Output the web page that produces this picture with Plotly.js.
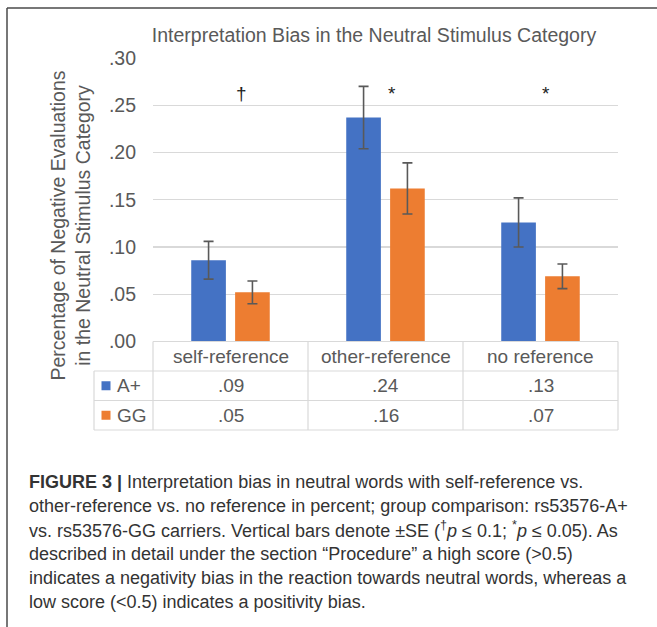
<!DOCTYPE html>
<html>
<head>
<meta charset="utf-8">
<script src="https://cdn.plot.ly/plotly-3.0.1.min.js"></script>
<style>
  html, body { margin: 0; padding: 0; background: #fff; }
  #chart { width: 657px; height: 627px; }
</style>
</head>
<body>
<div id="chart"></div>
<script>
// ---- data ----
const categories = ['self-reference', 'other-reference', 'no reference'];
const groupNames = ['A+', 'GG'];
const aPlusValues = [0.086, 0.237, 0.126];
const ggValues = [0.052, 0.162, 0.069];
const aPlusSE = [0.020, 0.033, 0.026];
const ggSE = [0.012, 0.027, 0.013];
const sigMarks = ['†', '*', '*'];
const yTickVals = [0, 0.05, 0.10, 0.15, 0.20, 0.25, 0.30];
const yTickText = ['.00', '.05', '.10', '.15', '.20', '.25', '.30'];
const chartTitle = 'Interpretation Bias in the Neutral Stimulus Category';
const yTitle = 'Percentage of Negative Evaluations<br>in the Neutral Stimulus Category';
const captionLines = [
  '<b>FIGURE 3 |</b> Interpretation bias in neutral words with self-reference vs.',
  'other-reference vs. no reference in percent; group comparison: rs53576-A+',
  'vs. rs53576-GG carriers. Vertical bars denote ±SE (<sup>†</sup><i>p</i> ≤ 0.1; <sup>*</sup><i>p</i> ≤ 0.05). As',
  'described in detail under the section “Procedure” a high score (&gt;0.5)',
  'indicates a negativity bias in the reaction towards neutral words, whereas a',
  'low score (&lt;0.5) indicates a positivity bias.'
];

// ---- styling / layout geometry ----
const W = 657, H = 627;
const M = { l: 153, r: 39, t: 58, b: 197 };
const PW = W - M.l - M.r, PH = H - M.t - M.b;
const px2x = p => (p - M.l) / PW;
const px2y = p => (H - M.b - p) / PH;
const tableTop = 341.5;
const splitFrac = px2y(tableTop);
const FONT = 'Liberation Sans, Arial, sans-serif';
const GREY = '#595959';
const LINE = '#d9d9d9';
const BLUE = '#4472C4', ORANGE = '#ED7D31';
const colors = [BLUE, ORANGE];
const fmt = v => v.toFixed(2).replace(/^0/, '');

const traces = [
  {
    type: 'bar', name: groupNames[0], x: categories, y: aPlusValues,
    marker: { color: BLUE },
    error_y: { type: 'data', array: aPlusSE, visible: true, color: GREY, thickness: 1.6, width: 5 },
    hoverinfo: 'y'
  },
  {
    type: 'bar', name: groupNames[1], x: categories, y: ggValues,
    marker: { color: ORANGE },
    error_y: { type: 'data', array: ggSE, visible: true, color: GREY, thickness: 1.6, width: 5 },
    hoverinfo: 'y'
  }
];

const annotations = [];
const shapes = [];

// y-axis title
annotations.push({
  xref: 'paper', yref: 'paper', x: px2x(70), y: px2y(225.5),
  text: yTitle, textangle: -90, showarrow: false,
  xanchor: 'center', yanchor: 'middle',
  font: { family: FONT, size: 19.5, color: GREY }
});

// significance marks
const sigShift = [11, 6, 5];
categories.forEach((c, i) => {
  annotations.push({
    xref: 'x', yref: 'y', x: c, y: 0.262, xshift: sigShift[i],
    text: sigMarks[i], showarrow: false,
    font: { family: FONT, size: 19, color: '#222' }
  });
});

// data table text
const seriesValues = [aPlusValues, ggValues];
categories.forEach((c, i) => {
  annotations.push({
    xref: 'x', yref: 'y2', x: c, y: 2.5, text: c, showarrow: false,
    font: { family: FONT, size: 19, color: GREY }
  });
  seriesValues.forEach((vals, s) => {
    annotations.push({
      xref: 'x', yref: 'y2', x: c, y: 1.5 - s, text: fmt(vals[i]), showarrow: false,
      font: { family: FONT, size: 19, color: GREY }
    });
  });
});

// legend column
groupNames.forEach((g, s) => {
  annotations.push({
    xref: 'paper', yref: 'y2', x: px2x(115), y: 1.5 - s, xanchor: 'left',
    text: g, showarrow: false,
    font: { family: FONT, size: 19, color: GREY }
  });
  shapes.push({
    type: 'rect', xref: 'paper', yref: 'y2',
    xsizemode: 'pixel', ysizemode: 'pixel',
    xanchor: px2x(106), yanchor: 1.5 - s,
    x0: -4.5, x1: 4.5, y0: -4.5, y1: 4.5,
    fillcolor: colors[s], line: { width: 0 }
  });
});

// table grid lines
const legendLeft = px2x(94);
const hl = (x0, x1, yd) => shapes.push({ type: 'line', xref: 'paper', yref: 'y2 domain', x0, x1, y0: yd, y1: yd, line: { color: LINE, width: 1.2 } });
const vl = (x, y0, y1) => shapes.push({ type: 'line', xref: 'paper', yref: 'y2 domain', x0: x, x1: x, y0, y1, line: { color: LINE, width: 1.2 } });
hl(0, 1, 1);
hl(legendLeft, 1, 2 / 3);
hl(legendLeft, 1, 1 / 3);
hl(legendLeft, 1, 0);
[0, 1 / 3, 2 / 3, 1].forEach(x => vl(x, 0, 1));
vl(legendLeft, 0, 2 / 3);

// figure frame
shapes.push({ type: 'line', xref: 'paper', yref: 'paper', x0: px2x(7), x1: px2x(660), y0: px2y(8), y1: px2y(8), line: { color: '#4a4a4a', width: 1.5 } });
shapes.push({ type: 'line', xref: 'paper', yref: 'paper', x0: px2x(7), x1: px2x(7), y0: px2y(8), y1: px2y(630), line: { color: '#4a4a4a', width: 1.5 } });

// caption
const capY = [481.7, 505.7, 529.7, 553.7, 577.7, 601.7];
captionLines.forEach((t, i) => {
  annotations.push({
    xref: 'paper', yref: 'paper', x: px2x(27), y: px2y(capY[i]),
    xanchor: 'left', yanchor: 'middle', text: t, showarrow: false, align: 'left',
    font: { family: FONT, size: 18, color: '#333' }
  });
});

const layout = {
  width: W, height: H,
  margin: M,
  paper_bgcolor: '#fff', plot_bgcolor: 'rgba(0,0,0,0)',
  showlegend: false,
  barmode: 'group', bargap: 0.434, bargroupgap: 0.21,
  title: {
    text: chartTitle, xref: 'container', yref: 'container',
    x: 374 / W, y: 1 - 35 / H, xanchor: 'center', yanchor: 'middle',
    font: { family: FONT, size: 19.5, color: GREY }
  },
  xaxis: {
    type: 'category', range: [-0.5, 2.5], showticklabels: false, ticks: '',
    showgrid: false, zeroline: false, showline: false, fixedrange: true, anchor: 'y2'
  },
  yaxis: {
    domain: [splitFrac, 1], range: [0, 0.30], tickvals: yTickVals, ticktext: yTickText,
    showgrid: true, gridcolor: LINE, gridwidth: 1.2, zeroline: false, showline: false,
    ticks: '', ticklabelstandoff: 16,
    tickfont: { family: FONT, size: 19.5, color: GREY }, fixedrange: true
  },
  yaxis2: {
    domain: [0, splitFrac], range: [0, 3], showgrid: false, zeroline: false,
    showticklabels: false, ticks: '', showline: false, fixedrange: true, anchor: 'x'
  },
  annotations, shapes
};

Plotly.newPlot('chart', traces, layout, { displayModeBar: false, staticPlot: true });
</script>
</body>
</html>
